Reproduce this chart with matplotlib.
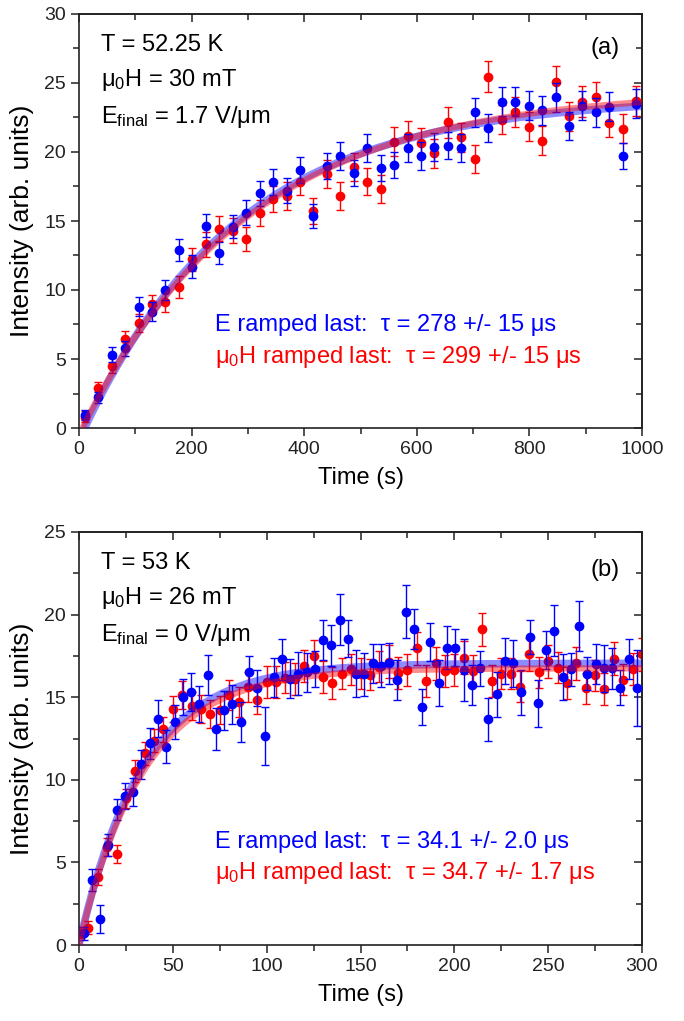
import numpy as np
import matplotlib
matplotlib.use('Agg')
import matplotlib.pyplot as plt
from matplotlib.ticker import MultipleLocator

plt.rcParams['font.family'] = ['Liberation Sans', 'DejaVu Sans']
plt.rcParams['mathtext.fontset'] = 'custom'
plt.rcParams['mathtext.rm'] = 'Liberation Sans'
plt.rcParams['mathtext.it'] = 'Liberation Sans:italic'
plt.rcParams['mathtext.bf'] = 'Liberation Sans:bold'

# ---------------- Panel (a) data ----------------
time_a = [10, 34, 58, 82, 106, 130, 153, 177, 201, 225, 249, 273, 297, 321, 345,
          369, 392, 416, 440, 464, 488, 512, 536, 560, 584, 608, 631, 655, 679, 703,
          727, 751, 775, 799, 823, 847, 870, 894, 918, 942, 966, 990]
blue_a = [0.94, 2.22, 5.3, 5.77, 8.79, 8.43, 10.0, 12.9, 11.7, 14.66,
          12.7, 14.6, 15.6, 17.0, 17.85, 17.2, 18.7, 15.36, 19.0, 19.7,
          18.45, 20.3, 18.86, 19.06, 20.27, 19.71, 20.38, 20.46, 20.31, 22.87,
          21.76, 23.65, 23.65, 23.36, 23.04, 23.96, 21.9, 23.36, 22.87, 23.28,
          19.71, 23.48]
blue_a_err = [0.35, 0.4, 0.55, 0.55, 0.7, 0.7, 0.75, 0.8, 0.8, 0.85,
              0.8, 0.85, 0.9, 0.9, 0.95, 0.9, 0.95, 0.85, 0.95, 1.0,
              0.95, 1.0, 0.95, 0.95, 1.0, 1.0, 1.0, 1.0, 1.0, 1.05,
              1.0, 1.05, 1.05, 1.05, 1.05, 1.05, 1.0, 1.05, 1.05, 1.05,
              0.95, 1.05]
red_a = [0.8, 2.87, 4.5, 6.43, 7.63, 8.96, 9.15, 10.24, 12.22, 13.3,
         14.44, 14.3, 13.7, 15.6, 16.6, 16.8, 17.85, 15.75, 18.4, 16.8,
         18.9, 17.85, 17.3, 20.75, 21.18, 20.67, 19.9, 22.15, 21.06, 19.49,
         25.46, 22.32, 22.92, 21.83, 20.82, 25.1, 22.6, 23.65, 24.0, 22.12,
         21.7, 23.7]
red_a_err = [0.4, 0.45, 0.55, 0.6, 0.65, 0.7, 0.75, 0.8, 0.85, 0.9,
             0.9, 0.9, 0.9, 0.95, 0.95, 1.0, 1.0, 0.95, 1.0, 1.0,
             1.0, 1.0, 1.0, 1.05, 1.05, 1.05, 1.05, 1.1, 1.05, 1.0,
             1.1, 1.05, 1.1, 1.05, 1.05, 1.1, 1.05, 1.1, 1.1, 1.05,
             1.05, 1.1]

# ---------------- Panel (b) data ----------------
time_b_blue = [2.5, 6.9, 11.3, 15.7, 20.1, 24.5, 28.9, 33.3, 37.7, 42.1,
               46.5, 50.9, 55.3, 59.7, 64.1, 68.5, 72.9, 77.3, 81.7, 86.1,
               90.5, 94.9, 99.3, 103.7, 108.1, 112.5, 116.9, 121.3, 125.7, 130.1,
               134.5, 138.9, 143.3, 147.7, 152.1, 156.5, 160.9, 165.3, 169.7, 174.1,
               178.5, 182.9, 187.3, 191.7, 196.1, 200.5, 204.9, 209.3, 213.7, 218.1,
               222.5, 226.9, 231.3, 235.7, 240.1, 244.5, 248.9, 253.3, 257.7, 262.1,
               266.5, 270.9, 275.3, 279.7, 284.1, 288.5, 292.9, 297.3]
blue_b = [0.7, 3.93, 1.57, 6.05, 8.2, 9.03, 9.24, 10.93, 12.2, 13.71,
          12.0, 13.5, 15.0, 15.3, 14.57, 16.33, 13.07, 14.2, 14.56, 13.5,
          16.52, 15.55, 12.65, 16.2, 17.3, 16.13, 16.43, 16.5, 16.7, 18.45,
          18.15, 19.7, 18.55, 16.43, 16.4, 17.04, 16.9, 17.04, 16.03, 20.17,
          19.12, 14.42, 18.35, 15.87, 18.0, 18.0, 16.64, 15.73, 16.74, 13.67,
          15.18, 17.2, 17.04, 15.29, 18.65, 14.62, 17.85, 19.02, 16.23, 16.7,
          19.3, 16.43, 17.0, 16.74, 16.74, 15.57, 17.3, 15.53]
blue_b_err = [0.4, 0.65, 0.85, 0.65, 0.65, 0.8, 0.85, 0.9, 0.95, 1.1,
              1.0, 1.05, 1.1, 1.15, 1.1, 1.2, 1.25, 1.2, 1.2, 1.2,
              1.0, 1.1, 1.75, 1.2, 1.25, 1.2, 1.3, 1.2, 1.1, 1.2,
              1.25, 1.55, 1.1, 1.4, 1.3, 1.2, 1.3, 1.25, 1.2, 1.6,
              1.2, 1.1, 1.15, 1.4, 1.3, 1.1, 1.9, 1.2, 1.05, 1.3,
              1.35, 1.4, 1.45, 1.35, 1.05, 1.4, 1.15, 1.55, 1.4, 1.0,
              1.5, 1.0, 1.2, 1.45, 1.25, 1.05, 1.2, 2.3]
time_b_red = [1, 5, 10, 15, 20, 25, 30, 35, 40, 45,
              50, 55, 60, 65, 70, 75, 80, 85, 90, 95,
              100, 105, 110, 115, 120, 125, 130, 135, 140, 145,
              150, 155, 160, 165, 170, 175, 180, 185, 190, 195,
              200, 205, 210, 215, 220, 225, 230, 235, 240, 245,
              250, 255, 260, 265, 270, 275, 280, 285, 290, 295,
              300]
red_b = [0.75, 1.05, 4.13, 5.91, 5.49, 8.87, 10.53, 11.6, 12.36, 13.05,
         14.3, 15.14, 14.48, 14.29, 13.97, 14.23, 15.12, 14.7, 15.6, 14.86,
         15.93, 15.93, 16.19, 16.09, 16.9, 17.5, 16.23, 15.87, 16.43, 16.68,
         16.43, 16.37, 16.84, 17.14, 16.47, 16.64, 17.95, 15.99, 17.04, 16.58,
         16.64, 17.38, 16.6, 19.1, 15.99, 16.43, 16.43, 15.63, 17.59, 16.5,
         17.18, 16.78, 15.87, 17.04, 15.53, 16.33, 15.49, 17.34, 16.07, 16.7,
         17.6]
red_b_err = [0.35, 0.4, 0.5, 0.55, 0.55, 0.6, 0.65, 0.7, 0.7, 0.75,
             0.8, 0.85, 0.85, 0.85, 0.85, 0.85, 0.9, 0.9, 0.9, 0.9,
             0.95, 0.95, 0.95, 0.95, 0.95, 0.95, 0.95, 0.95, 0.95, 0.95,
             0.95, 0.95, 0.95, 1.0, 0.95, 0.95, 1.0, 0.95, 1.0, 0.95,
             0.95, 1.0, 0.95, 1.0, 0.95, 0.95, 0.95, 0.95, 1.0, 0.95,
             1.0, 0.95, 0.95, 1.0, 0.95, 0.95, 0.95, 1.0, 0.95, 0.95,
             1.0]

# fit parameters (exponential saturation, tau from the annotations)
tau_a_blue, amp_a_blue, t0_a_blue = 278.0, 24.0, 10.0
tau_a_red, amp_a_red, t0_a_red = 299.0, 24.5, 6.0
tau_b_blue, amp_b_blue, t0_b_blue = 34.1, 17.05, 0.0
tau_b_red, amp_b_red, t0_b_red = 34.7, 16.75, 0.0

BLUE = '#0000ff'
RED = '#ff0000'

fig = plt.figure(figsize=(6.84, 10.21), dpi=100)
ax1 = fig.add_axes([79 / 684, 1 - 428 / 1021, 563 / 684, 414 / 1021])
ax2 = fig.add_axes([79 / 684, 1 - 945 / 1021, 563 / 684, 413 / 1021])


def style(ax, xmax, xmaj, xmin, ymax):
    ax.set_xlim(0, xmax)
    ax.set_ylim(0, ymax)
    ax.xaxis.set_major_locator(MultipleLocator(xmaj))
    ax.xaxis.set_minor_locator(MultipleLocator(xmin))
    ax.yaxis.set_major_locator(MultipleLocator(5))
    ax.yaxis.set_minor_locator(MultipleLocator(2.5))
    ax.tick_params(which='both', direction='out', labelsize=14, width=1.1,
                   colors='#222222', labelcolor='#222222')
    ax.tick_params(which='major', length=6)
    ax.tick_params(which='minor', length=4)
    for s in ax.spines.values():
        s.set_linewidth(1.2)
        s.set_color('#222222')
    sx = ax.secondary_xaxis('top')
    sx.xaxis.set_major_locator(MultipleLocator(xmaj))
    sx.xaxis.set_minor_locator(MultipleLocator(xmin))
    sx.tick_params(which='both', direction='in', labeltop=False, width=1.1, colors='#222222')
    sx.tick_params(which='major', length=6)
    sx.tick_params(which='minor', length=4)
    sy = ax.secondary_yaxis('right')
    sy.yaxis.set_major_locator(MultipleLocator(5))
    sy.yaxis.set_minor_locator(MultipleLocator(2.5))
    sy.tick_params(which='both', direction='in', labelright=False, width=1.1, colors='#222222')
    sy.tick_params(which='major', length=6)
    sy.tick_params(which='minor', length=4)
    for s in list(sx.spines.values()) + list(sy.spines.values()):
        s.set_linewidth(1.2)
        s.set_color('#222222')
    ax.set_xlabel('Time (s)', fontsize=17, labelpad=6)
    ax.set_ylabel('Intensity (arb. units)', fontsize=19, labelpad=7)


def draw(ax, tb, vb, eb, tr, vr, er, fb, fr, xmax):
    ax.errorbar(tr, vr, yerr=er, fmt='o', color=RED, ms=6, mec=RED, elinewidth=1,
                capsize=3, capthick=1, ecolor=RED, zorder=2)
    ax.errorbar(tb, vb, yerr=eb, fmt='o', color=BLUE, ms=6, mec=BLUE, elinewidth=1,
                capsize=3, capthick=1, ecolor=BLUE, zorder=3)
    for (amp, tau, t0), col, lw, z in ((fb, BLUE, 5.5, 4), (fr, RED, 4.5, 5)):
        tt = np.linspace(t0, xmax, 400)
        yy = amp * (1 - np.exp(-(tt - t0) / tau))
        ax.plot(tt, yy, color=col, lw=lw, alpha=0.45, solid_capstyle='butt', zorder=z)


style(ax1, 1000, 200, 100, 30)
style(ax2, 300, 50, 25, 25)

draw(ax1, time_a, blue_a, blue_a_err, time_a, red_a, red_a_err,
     (amp_a_blue, tau_a_blue, t0_a_blue), (amp_a_red, tau_a_red, t0_a_red), 1000)
draw(ax2, time_b_blue, blue_b, blue_b_err, time_b_red, red_b, red_b_err,
     (amp_b_blue, tau_b_blue, t0_b_blue), (amp_b_red, tau_b_red, t0_b_red), 300)

fs = 17
# panel (a) annotations
ax1.text(0.039, 0.925, 'T = 52.25 K', transform=ax1.transAxes, fontsize=fs, va='center')
ax1.text(0.039, 0.840, 'μ$\\mathregular{_0}$H = 30 mT', transform=ax1.transAxes, fontsize=fs, va='center')
ax1.text(0.039, 0.751, 'E$\\mathregular{_{final}}$ = 1.7 V/μm', transform=ax1.transAxes, fontsize=fs, va='center')
ax1.text(0.934, 0.918, '(a)', transform=ax1.transAxes, fontsize=fs, va='center', ha='center')
ax1.text(0.2416, 0.249, 'E ramped last:  τ = 278 +/- 15 μs', transform=ax1.transAxes,
         fontsize=fs, va='center', color=BLUE)
ax1.text(0.2416, 0.171, 'μ$\\mathregular{_0}$H ramped last:  τ = 299 +/- 15 μs', transform=ax1.transAxes,
         fontsize=fs, va='center', color=RED)

# panel (b) annotations
ax2.text(0.039, 0.925, 'T = 53 K', transform=ax2.transAxes, fontsize=fs, va='center')
ax2.text(0.039, 0.840, 'μ$\\mathregular{_0}$H = 26 mT', transform=ax2.transAxes, fontsize=fs, va='center')
ax2.text(0.039, 0.751, 'E$\\mathregular{_{final}}$ = 0 V/μm', transform=ax2.transAxes, fontsize=fs, va='center')
ax2.text(0.934, 0.908, '(b)', transform=ax2.transAxes, fontsize=fs, va='center', ha='center')
ax2.text(0.2416, 0.249, 'E ramped last:  τ = 34.1 +/- 2.0 μs', transform=ax2.transAxes,
         fontsize=fs, va='center', color=BLUE)
ax2.text(0.2416, 0.174, 'μ$\\mathregular{_0}$H ramped last:  τ = 34.7 +/- 1.7 μs', transform=ax2.transAxes,
         fontsize=fs, va='center', color=RED)

fig.savefig('out.png', dpi=100)
